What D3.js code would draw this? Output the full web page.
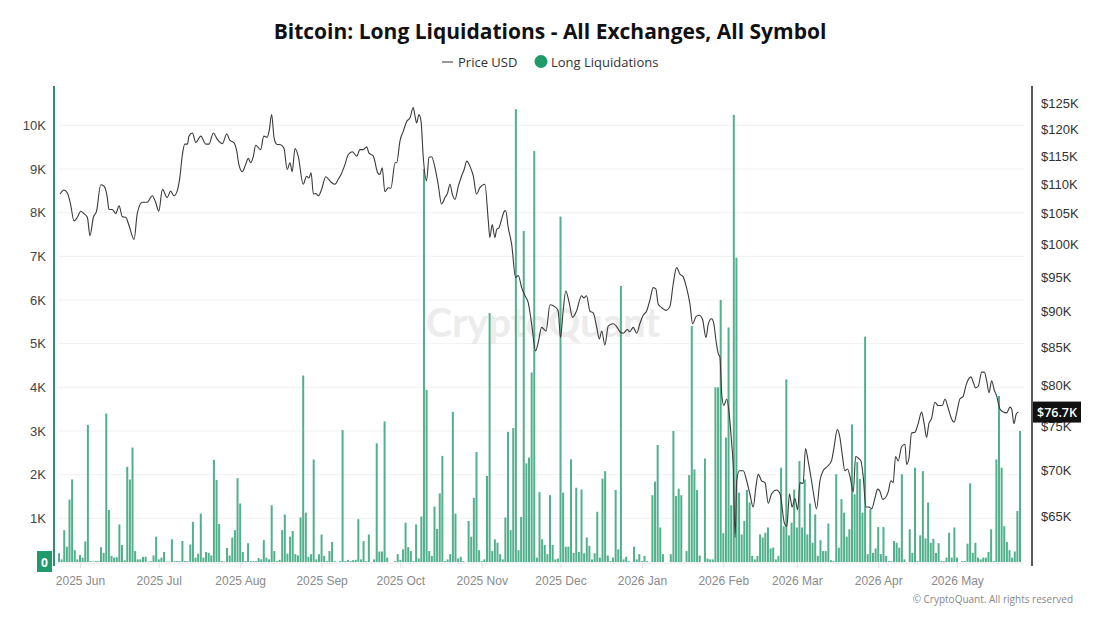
<!DOCTYPE html>
<html>
<head>
<meta charset="utf-8">
<script src="https://cdn.jsdelivr.net/npm/d3@7"></script>
<style>
  html, body { margin: 0; padding: 0; background: #ffffff; }
  svg { display: block; font-family: "Open Sans", "Noto Sans", sans-serif; }
</style>
</head>
<body>
<svg id="chart" width="1100" height="619"></svg>
<script>
// ---------------- DATA ----------------
const startDate = "2025-05-24";           // first daily bar
// Long liquidations per day (thousands USD), one per day from startDate
const liquidationsK = [
  0.20,0.06,0.73,0.35,1.43,1.89,0.27,0.06,0.16,0.10,0.47,
  3.14,0.02,0.01,0.02,0.02,0.34,0.21,3.40,1.19,0.14,
  0.10,0.11,0.86,0.39,0.04,2.18,1.89,2.62,0.25,0.06,
  0.06,0.12,0.12,0.01,0.02,0.15,0.58,0.06,0.10,0.23,
  0.01,0.01,0.52,0.02,0.02,0.02,0.48,0.02,0.02,0.40,
  0.92,0.10,0.19,1.11,0.10,0.23,0.21,0.15,2.34,1.88,
  0.87,0.02,0.01,0.32,0.15,0.56,0.73,1.92,1.34,0.23,
  0.02,0.43,0.02,0.02,0.02,0.09,0.06,0.50,0.10,0.06,
  1.30,0.25,0.02,0.05,0.73,1.09,0.19,0.58,0.71,0.18,
  0.15,1.02,4.27,1.13,0.12,0.18,2.35,0.06,0.18,0.63,
  0.14,0.02,0.25,0.46,0.02,0.00,0.02,3.02,0.02,0.05,
  0.02,0.04,0.05,0.98,0.06,0.48,0.02,0.63,0.00,0.06,
  2.72,0.24,0.24,3.22,0.10,0.00,0.00,0.02,0.18,0.05,
  0.29,0.90,0.34,0.25,0.02,0.86,0.08,1.04,9.00,3.94,
  0.25,0.14,1.27,0.76,1.57,2.43,0.02,0.06,0.18,3.44,
  1.11,0.08,0.12,0.02,0.00,0.94,0.58,1.47,2.52,0.27,
  0.02,0.06,1.97,5.70,0.25,0.52,0.44,0.18,0.06,1.02,
  2.98,0.73,3.07,10.37,0.27,1.03,7.58,2.26,2.39,4.34,
  9.41,0.10,1.60,0.52,0.39,0.18,1.53,0.39,0.06,0.08,
  7.91,1.59,0.35,0.35,2.35,0.21,1.70,0.23,1.66,0.20,
  0.56,0.37,0.06,0.20,1.15,0.10,1.91,2.08,0.15,0.02,
  0.10,1.65,0.29,6.32,0.06,0.12,0.02,0.00,0.35,0.06,
  0.18,0.02,0.14,0.02,0.00,1.53,1.84,2.68,0.79,0.18,
  0.00,0.00,0.18,3.00,1.51,1.68,1.53,0.00,0.25,1.99,
  5.40,2.12,1.65,0.15,0.00,2.37,0.08,0.06,0.06,4.00,
  4.00,6.00,0.66,2.85,5.37,1.30,10.24,6.97,1.59,0.63,
  0.94,1.65,1.36,0.14,0.06,0.14,0.63,0.56,0.67,0.79,
  0.31,0.33,0.06,0.14,2.16,0.82,4.18,0.61,0.90,1.66,
  0.79,2.31,0.79,1.89,0.63,1.34,0.44,1.09,0.14,0.50,
  0.25,0.25,0.88,0.04,0.02,2.01,0.33,1.44,1.13,0.58,
  0.75,3.15,1.55,2.29,1.90,1.13,5.16,0.18,1.21,0.21,
  0.31,0.80,0.18,0.80,0.14,0.02,0.02,0.48,0.44,0.33,
  2.01,0.06,0.00,0.75,0.21,2.16,0.02,0.61,2.08,0.54,
  1.36,0.44,0.53,0.21,0.43,0.02,0.02,0.10,0.67,0.10,
  0.79,0.10,0.00,0.02,0.02,0.42,1.80,0.21,0.44,0.10,
  0.06,0.10,0.10,0.23,0.75,0.02,2.35,3.80,2.16,0.82,
  0.46,0.27,0.10,0.24,1.17,3.00
];
// Price line samples: day offset from startDate, price in thousands USD
const priceDay = [
  0.4,1.9,3.2,4.4,5.7,7,8.3,9.5,10.8,11.8,13.1,14.3,15.9,17.1,18.4,19,20.3,21.6,22.9,24.1,
  25.4,26.7,28.6,29.8,31.7,33.6,35.5,36.8,38,39.4,41.2,42.5,43.8,45,46,47,47.9,48.9,49.5,50.8,
  52.1,54,55.9,57.1,58.8,60.3,62.2,63.9,65.1,66.6,67.7,68.5,69.8,71.1,72.1,73,74,74.9,75.8,76.8,
  78,79.3,80,81,81.9,82.9,84.4,85.7,86.9,88,88.8,89.9,91.1,93,94.3,95.2,96,96.9,97.8,98.8,
  100,101.6,102.6,103.8,105.1,106.4,107.4,108.7,110.2,111.7,113.4,114.6,115.9,117.2,118,119.7,121.4,122.2,123.1,124.1,
  125.4,126.4,128,128.6,129.9,131.1,132.4,133.7,134.9,135.6,136.2,137.1,137.9,138.7,140,140.9,141.9,143.2,144.4,145.7,
  147,148,148.9,149.8,150.8,152.1,153.3,154.3,155.3,156.5,157.8,159,160.3,162.2,163.5,164.1,165,166,166.7,167.6,
  168.6,169.6,170.1,171.1,172.4,173.9,174.9,176.2,177.5,178.7,180,181.5,182.5,183.8,185.5,187,188.9,190.1,191,192,
  193,194.3,195.6,197.1,199,199.9,200.9,202.2,203.5,204.8,205.8,206.7,207.9,209.2,211.1,212.6,213.6,214.9,216.4,217.4,
  218.7,220,221.2,222.5,223.8,225,226.3,227.3,228.2,229.5,231.2,232.7,233.9,235.2,236.5,237.7,239,240.3,241.3,242.6,
  243.8,245.1,246.4,247.3,248.5,249.4,250.2,251.1,251.7,252.4,253.2,254.3,255.3,256.2,256.8,257.5,258.1,259.1,260.6,261.9,
  263.1,264.4,265.4,266.3,267.6,268.9,270.1,271.4,273.3,274.6,276.3,277.2,278.2,279.2,280.3,281.3,282.2,283.4,284.3,285.3,
  286.6,287.6,288.5,289.8,291,292.7,294.2,295.2,296.4,297.4,298.3,299.3,300.3,301.3,302.5,303.4,304.4,305.4,306.3,307.3,
  308.5,309.5,310.8,311.8,312.6,313.7,314.5,315.8,316.8,317.7,318.6,319.6,320.9,322.2,322.8,323.7,324.7,326,327.2,328.5,
  329.5,330.4,331.3,332.3,333.6,334.8,336.4,337.4,338.7,339.9,340.9,342.2,343.1,344.3,345.6,347.3,348.2,349.1,350.1,351.4,
  352.4,353.3,354.2,355.2,356.2,357.1,358.3,359.6,360.9,362.2,362.8,363.7,364.6,365.4
];
const priceK = [
  108.3,109.0,108.5,106.6,103.8,104.4,105.4,105.0,104.4,101.4,104.4,105.4,109.9,109.7,107.7,105.7,105.7,105.0,106.3,104.5,
  104.4,103.0,100.8,105.0,106.9,106.9,108.0,106.9,105.4,109.1,107.7,108.8,108.0,108.8,111.1,115.3,117.2,117.2,118.7,119.3,
  117.5,118.7,117.2,117.2,119.3,118.1,117.3,119.1,117.9,117.5,115.9,113.5,112.2,113.5,114.6,113.8,114.9,117.0,116.6,116.2,
  118.7,118.5,119.6,122.8,118.4,117.2,117.1,116.4,112.6,113.8,112.2,116.4,115.0,110.0,111.4,111.1,112.0,108.3,108.4,108.0,
  109.1,111.3,110.9,110.3,110.0,110.9,111.7,113.2,115.3,115.8,115.0,116.2,116.2,116.7,115.6,115.0,112.0,111.7,112.9,108.7,
  109.4,109.3,113.8,113.8,117.9,119.6,121.5,122.2,124.2,122.5,121.2,122.8,121.5,115.0,110.6,114.8,114.9,112.9,110.0,106.6,
  107.7,108.5,110.0,108.3,107.4,109.7,111.4,112.6,114.1,113.2,111.4,108.3,109.4,110.0,103.8,101.1,103.2,101.1,102.4,102.7,
  104.1,105.4,105.5,102.7,100.0,94.9,95.2,93.4,92.2,91.2,88.2,84.5,85.6,87.7,87.2,90.9,90.6,90.0,86.3,90.0,
  92.9,91.2,89.1,90.0,92.2,91.9,92.2,90.0,89.7,87.7,86.1,87.2,85.3,87.9,88.2,87.7,87.1,86.9,87.4,87.1,
  87.7,86.9,88.2,89.4,90.0,91.5,93.4,93.2,91.0,90.5,90.1,90.7,93.9,96.4,95.4,95.0,93.4,91.0,88.2,89.2,
  89.4,88.8,86.3,88.2,88.9,88.2,85.9,84.1,83.7,78.9,77.5,78.3,76.3,72.9,70.3,62.9,68.8,69.9,69.9,68.8,
  67.4,66.0,68.1,69.5,68.8,68.6,66.4,67.4,67.8,67.4,64.3,64.0,67.4,66.0,66.9,65.7,68.6,68.5,72.4,71.0,
  68.8,67.0,65.8,68.8,69.9,70.4,71.0,72.6,74.6,73.7,71.7,69.9,70.1,69.2,67.6,71.5,71.3,71.0,69.2,66.0,
  66.0,65.8,67.0,67.9,67.7,66.8,66.9,67.6,68.8,68.6,71.5,71.0,72.6,72.9,70.6,71.3,74.2,74.3,75.3,76.7,
  75.3,73.7,75.3,75.9,77.9,77.5,77.5,78.3,77.1,75.9,75.5,77.1,78.3,78.6,80.2,81.1,80.4,79.7,79.9,81.7,
  81.7,80.6,79.1,80.6,79.4,78.7,77.1,76.7,76.6,77.3,77.1,75.3,76.5,76.7
];
const leftTicksK = [0,1,2,3,4,5,6,7,8,9,10];
const rightTicksK = [65,70,75,80,85,90,95,100,105,110,115,120,125];
const monthTicks = ["2025-06-01","2025-07-01","2025-08-01","2025-09-01","2025-10-01","2025-11-01",
                    "2025-12-01","2026-01-01","2026-02-01","2026-03-01","2026-04-01","2026-05-01"];
const lastPriceLabel = "$76.7K";

// ---------------- CHART ----------------
const svg = d3.select("#chart");
const DAY = 864e5;
const t0 = new Date(startDate + "T00:00:00Z").getTime();
const dayDate = d => new Date(t0 + d * DAY);

const plotTop = 86, plotBottom = 562, plotLeft = 54, plotRight = 1032;

const x = d3.scaleUtc()
  .domain([new Date("2025-06-01T00:00:00Z"), new Date("2026-05-01T00:00:00Z")])
  .range([80, 957]);
const yL = d3.scaleLinear().domain([0, 10.9]).range([plotBottom, plotTop]);
const yR = d3.scaleLog().domain([60.5, 128.5]).range([plotBottom, plotTop]);

// gridlines
svg.append("g").selectAll("line").data(leftTicksK.filter(d => d > 0)).join("line")
  .attr("x1", plotLeft + 4).attr("x2", 1024)
  .attr("y1", d => yL(d)).attr("y2", d => yL(d))
  .attr("stroke", "#f1f1f1").attr("stroke-width", 1);

// watermark
svg.append("text").attr("x", 543).attr("y", 337).attr("text-anchor", "middle")
  .attr("font-size", 40).attr("font-family", "Lato, 'Open Sans', sans-serif").attr("font-weight", 700)
  .attr("fill", "#e6e6e6").attr("opacity", 0.75).text("CryptoQuant");

// bars
svg.append("g").selectAll("rect").data(liquidationsK).join("rect")
  .attr("x", (d, i) => x(dayDate(i)) - 1)
  .attr("width", 2)
  .attr("y", d => yL(d))
  .attr("height", d => plotBottom - yL(d))
  .attr("fill", "#52b08c");

// baseline
svg.append("line").attr("x1", plotLeft).attr("x2", 1024).attr("y1", plotBottom + 1).attr("y2", plotBottom + 1)
  .attr("stroke", "#e6e6e6");

// price line
const pricePts = priceDay.map((d, i) => [dayDate(d), priceK[i]]);
svg.append("path").datum(pricePts)
  .attr("fill", "none").attr("stroke", "#3a3a3a").attr("stroke-width", 1.1)
  .attr("d", d3.line().x(d => x(d[0])).y(d => yR(d[1])).curve(d3.curveMonotoneX));

// x axis
const xAxis = d3.axisBottom(x)
  .tickValues(monthTicks.map(s => new Date(s + "T00:00:00Z")))
  .tickFormat(d3.utcFormat("%Y %b")).tickSize(5).tickPadding(8);
const gx = svg.append("g").attr("transform", `translate(0,${plotBottom + 1})`).call(xAxis);
gx.select(".domain").remove();
gx.selectAll(".tick line").attr("stroke", "#e2e2e2");
gx.selectAll("text").attr("fill", "#8a8a8a").attr("font-size", 12);

// left axis
const yAxisL = d3.axisLeft(yL).tickValues(leftTicksK.filter(d => d > 0))
  .tickFormat(d => d + "K").tickSize(0).tickPadding(8);
const gl = svg.append("g").attr("transform", `translate(${plotLeft},0)`).call(yAxisL);
gl.select(".domain").remove();
gl.selectAll("text").attr("fill", "#444").attr("font-size", 13);
svg.append("line").attr("x1", plotLeft).attr("x2", plotLeft).attr("y1", plotTop).attr("y2", plotBottom + 4)
  .attr("stroke", "#2e8f6c").attr("stroke-width", 2);
// zero badge
svg.append("rect").attr("x", 37).attr("y", yL(0) - 11).attr("width", 15).attr("height", 21).attr("fill", "#1f9a6b");
svg.append("text").attr("x", 44.5).attr("y", yL(0) + 4.5).attr("text-anchor", "middle")
  .attr("fill", "#fff").attr("font-size", 12).attr("font-weight", 700).text("0");

// right axis
const yAxisR = d3.axisRight(yR).tickValues(rightTicksK)
  .tickFormat(d => "$" + d + "K").tickSize(0).tickPadding(9);
const gr = svg.append("g").attr("transform", `translate(${plotRight},0)`).call(yAxisR);
gr.select(".domain").remove();
gr.selectAll("text").attr("fill", "#333").attr("font-size", 13);
svg.append("line").attr("x1", plotRight).attr("x2", plotRight).attr("y1", plotTop).attr("y2", plotBottom + 4)
  .attr("stroke", "#222").attr("stroke-width", 1.5);
// last price badge
const lastY = yR(priceK[priceK.length - 1]);
svg.append("rect").attr("x", plotRight + 1).attr("y", lastY - 10.5).attr("width", 48).attr("height", 21).attr("fill", "#111");
svg.append("text").attr("x", plotRight + 25).attr("y", lastY + 4.5).attr("text-anchor", "middle")
  .attr("fill", "#fff").attr("font-size", 12.5).attr("font-weight", 600).text(lastPriceLabel);

// title
svg.append("text").attr("x", 550).attr("y", 39).attr("text-anchor", "middle")
  .attr("font-size", 21).attr("font-weight", 700).attr("fill", "#111")
  .text("Bitcoin: Long Liquidations - All Exchanges, All Symbol");

// legend
svg.append("line").attr("x1", 442).attr("x2", 453).attr("y1", 62).attr("y2", 62).attr("stroke", "#555").attr("stroke-width", 1.2);
svg.append("text").attr("x", 458).attr("y", 66.5).attr("font-size", 13).attr("fill", "#333").text("Price USD");
svg.append("circle").attr("cx", 541).attr("cy", 61.5).attr("r", 6.5).attr("fill", "#1f9a6b");
svg.append("text").attr("x", 551).attr("y", 66.5).attr("font-size", 13).attr("fill", "#333").text("Long Liquidations");

// copyright
svg.append("text").attr("x", 1073).attr("y", 603).attr("text-anchor", "end")
  .attr("font-size", 10).attr("fill", "#888").text("© CryptoQuant. All rights reserved");
</script>
</body>
</html>
